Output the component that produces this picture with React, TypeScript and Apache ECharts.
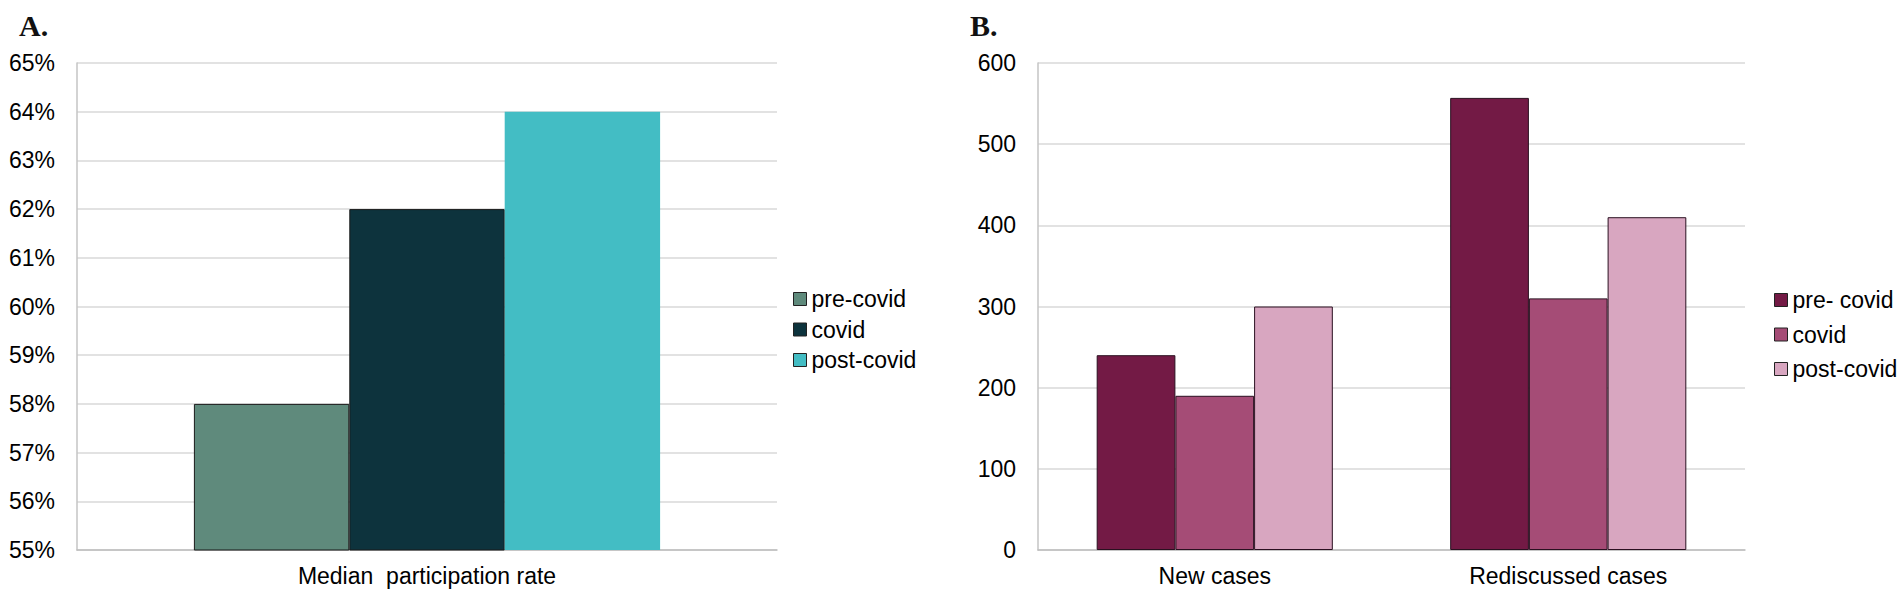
import React, { useEffect, useRef } from "react";
import * as echarts from "echarts";

// ---------- data ----------
const categoriesA = ["Median  participation rate"];
const seriesNamesA = ["pre-covid", "covid", "post-covid"];
const preCovidA = [58];
const covidA = [62];
const postCovidA = [64];

const categoriesB = ["New cases", "Rediscussed cases"];
const seriesNamesB = ["pre- covid", "covid", "post-covid"];
const preCovidB = [240, 557];
const covidB = [190, 310];
const postCovidB = [300, 410];

const colorsA = ["#5F8A7C", "#0D333D", "#43BDC4"];
const colorsB = ["#731A45", "#A54C76", "#D8A6C0"];

const FONT = "'Liberation Sans', Arial, Helvetica, sans-serif";

function baseOption(title: string, gridLeft: number, gridWidth: number) {
  return {
    animation: false,
    backgroundColor: "#ffffff",
    title: {
      text: title,
      left: 14,
      top: 5,
      textStyle: {
        fontFamily: "'Liberation Serif', 'Times New Roman', serif",
        fontWeight: "bold",
        fontSize: 30,
        color: "#111111",
      },
    },
    grid: { left: gridLeft, top: 63, width: gridWidth, height: 487, containLabel: false },
  };
}

function legendOpt(left: number, top: number, gap: number, names: string[]) {
  return {
    orient: "vertical",
    left,
    top,
    itemWidth: 13,
    itemHeight: 13,
    itemGap: gap,
    icon: "rect",
    data: names,
    textStyle: { fontFamily: FONT, fontSize: 23, color: "#000", lineHeight: 24 },
    itemStyle: { borderColor: "#222", borderWidth: 1 },
  };
}

const yAxisCommon = {
  type: "value",
  axisLine: { show: true, lineStyle: { color: "#c4c4c4", width: 1.5 } },
  axisTick: { show: false },
  splitLine: { show: true, lineStyle: { color: "#d9d9d9", width: 1.5 } },
  axisLabel: { fontFamily: FONT, fontSize: 23, color: "#000", margin: 22 },
};

const xAxisCommon = {
  type: "category",
  axisLine: { show: true, lineStyle: { color: "#bdbdbd", width: 1.5 } },
  axisTick: { show: false },
  axisLabel: { fontFamily: FONT, fontSize: 23, color: "#000", margin: 14 },
};

export default function App() {
  const refA = useRef<HTMLDivElement>(null);
  const refB = useRef<HTMLDivElement>(null);

  useEffect(() => {
    const chartA = echarts.init(refA.current!, null, { renderer: "svg" });
    const chartB = echarts.init(refB.current!, null, { renderer: "svg" });

    const dataA = [preCovidA, covidA, postCovidA];
    chartA.setOption({
      ...baseOption("A.", 77, 700),
      legend: legendOpt(788, 282, 6.5, seriesNamesA),
      xAxis: { ...xAxisCommon, data: categoriesA },
      yAxis: {
        ...yAxisCommon,
        min: 55,
        max: 65,
        interval: 1,
        axisLabel: { ...yAxisCommon.axisLabel, formatter: "{value}%" },
      },
      series: seriesNamesA.map((name, i) => ({
        name,
        type: "bar",
        data: dataA[i],
        barGap: "0%",
        barCategoryGap: "33.4%",
        itemStyle: {
          color: colorsA[i],
          borderColor: i === 2 ? colorsA[i] : "#1a1a1a",
          borderWidth: i === 2 ? 0 : 1,
        },
      })),
    });

    const dataB = [preCovidB, covidB, postCovidB];
    chartB.setOption({
      ...baseOption("B.", 87, 707),
      legend: legendOpt(818, 283, 10.5, seriesNamesB),
      xAxis: { ...xAxisCommon, data: categoriesB },
      yAxis: { ...yAxisCommon, min: 0, max: 600, interval: 100 },
      series: seriesNamesB.map((name, i) => ({
        name,
        type: "bar",
        data: dataB[i],
        barGap: "0%",
        barCategoryGap: "33.2%",
        itemStyle: { color: colorsB[i], borderColor: "#2a1020", borderWidth: 1 },
      })),
    });

    return () => {
      chartA.dispose();
      chartB.dispose();
    };
  }, []);

  return (
    <div style={{ position: "fixed", left: 0, top: 0, width: 1902, height: 599, background: "#fff" }}>
      <div ref={refA} style={{ position: "absolute", left: 0, top: 0, width: 951, height: 599 }} />
      <div ref={refB} style={{ position: "absolute", left: 951, top: 0, width: 951, height: 599 }} />
    </div>
  );
}
